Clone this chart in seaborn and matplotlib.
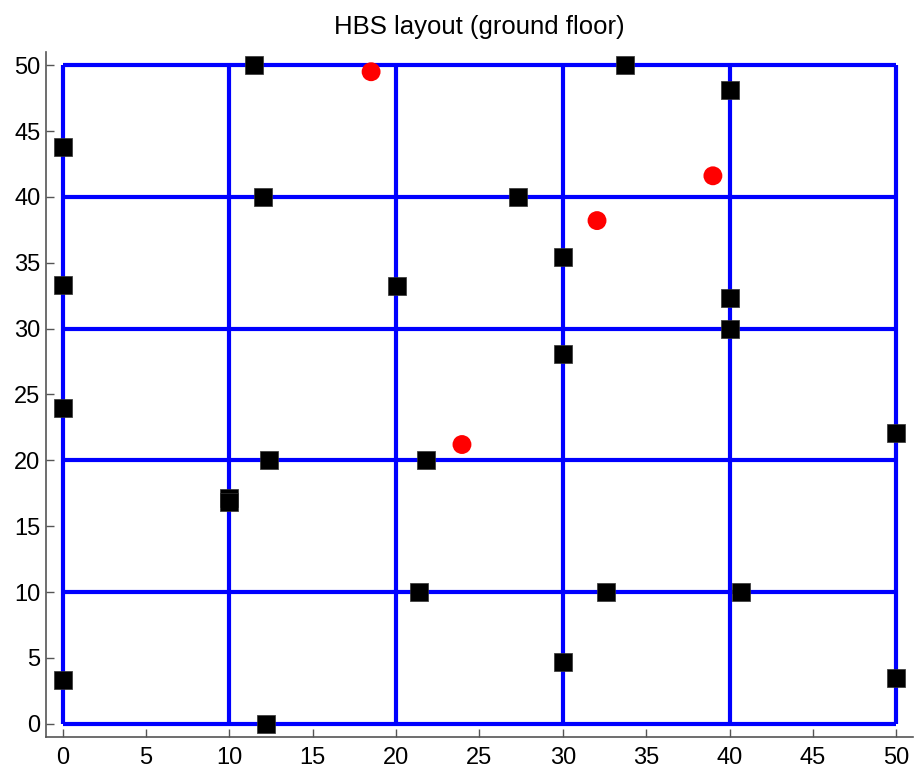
import matplotlib
matplotlib.use("Agg")
import matplotlib.pyplot as plt
import seaborn as sns
import pandas as pd

# walls of the floor plan (grid every 10 m)
wall_pos = [0, 10, 20, 30, 40, 50]

# black squares (nodes)
node_x = [11.5, 33.7, 40.0, 0.0, 12.0, 27.3, 30.0, 0.0, 20.05, 40.0, 40.0, 30.0, 0.0,
          50.0, 12.4, 21.8, 10.0, 10.0, 21.35, 32.6, 40.7, 30.0, 0.0, 50.0, 12.2]
node_y = [50.0, 50.0, 48.1, 43.8, 40.0, 40.0, 35.4, 33.3, 33.2, 32.3, 30.0, 28.1, 24.0,
          22.1, 20.0, 20.0, 17.15, 16.85, 10.0, 10.0, 10.0, 4.7, 3.3, 3.5, 0.0]

# red circles
red_x = [18.5, 39.0, 32.05, 23.95]
red_y = [49.5, 41.6, 38.2, 21.2]

sns.set_style("white")
plt.rcParams['font.family'] = ['Liberation Sans', 'DejaVu Sans']
plt.rcParams['text.color'] = 'black'

fig = plt.figure(figsize=(9.16, 7.7), dpi=100)
ax = fig.add_axes([0.0502, 0.0429, 0.9465, 0.8896])

# blue walls
ax.vlines(wall_pos, 0, 50, color='#0000ff', lw=3, zorder=1)
ax.hlines(wall_pos, 0, 50, color='#0000ff', lw=3, zorder=1)

nodes = pd.DataFrame({'x': node_x, 'y': node_y})
reds = pd.DataFrame({'x': red_x, 'y': red_y})
sns.scatterplot(data=nodes, x='x', y='y', marker='s', s=150, color='black',
                edgecolor='#333333', linewidth=0.5, ax=ax, zorder=3)
sns.scatterplot(data=reds, x='x', y='y', marker='o', s=185, color='#ff0000',
                edgecolor='none', ax=ax, zorder=3)

ax.set_xlim(-1, 51)
ax.set_ylim(-1, 51)
ax.set_xticks(range(0, 51, 5))
ax.set_yticks(range(0, 51, 5))
ax.set_xlabel('')
ax.set_ylabel('')
ax.set_title('HBS layout (ground floor)', fontsize=18.5, pad=13, color='black')

for side in ['top', 'right']:
    ax.spines[side].set_visible(False)
for side in ['left', 'bottom']:
    ax.spines[side].set_color('#555555')
    ax.spines[side].set_linewidth(1.2)
ax.tick_params(bottom=True, left=True, direction='in', length=6, width=1,
               color='#555555', labelsize=17, labelcolor='black')
ax.tick_params(axis='x', pad=7)
ax.tick_params(axis='y', pad=4)

fig.savefig('out.png', dpi=100)
